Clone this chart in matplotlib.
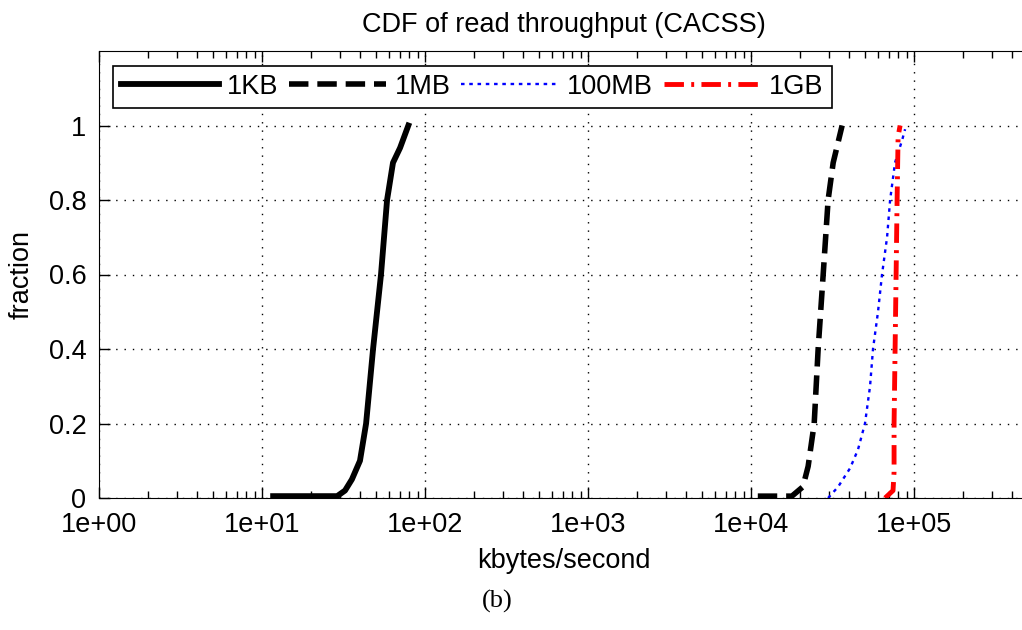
import matplotlib
matplotlib.use('Agg')
import matplotlib.pyplot as plt
from matplotlib.ticker import FixedLocator, LogLocator, NullFormatter

plt.rcParams['font.family'] = ['Liberation Sans', 'DejaVu Sans']

# read throughput samples (kbytes/second) and cumulative fraction
x_1kb = [11.7, 28.9, 32.3, 35.6, 39.9, 43.5, 48.0, 53.7, 58.5, 63.6, 70.3, 79.0]
y_1kb = [0.005, 0.005, 0.02, 0.05, 0.10, 0.2, 0.4, 0.6, 0.8, 0.9, 0.94, 1.0]

x_1mb = [11000, 17800, 20800, 22400, 24400, 25800, 27700, 29700, 31900, 36200]
y_1mb = [0.005, 0.005, 0.03, 0.085, 0.2, 0.4, 0.6, 0.8, 0.9, 1.0]

x_100mb = [29700, 34200, 40500, 45300, 50000, 53700, 56000, 60100, 63600,
           68300, 71300, 76400, 84400, 88100]
y_100mb = [0.0, 0.03, 0.08, 0.13, 0.2, 0.3, 0.4, 0.5, 0.6, 0.7, 0.8, 0.9, 0.96, 0.99]

x_1gb = [66400, 74300, 75400, 75400, 76500, 77600, 78700, 79800, 82100]
y_1gb = [0.0, 0.02, 0.07, 0.2, 0.4, 0.6, 0.8, 0.97, 1.0]

xticks = [1, 10, 100, 1000, 10000, 100000]
xtick_labels = ['1e+00', '1e+01', '1e+02', '1e+03', '1e+04', '1e+05']
yticks = [0, 0.2, 0.4, 0.6, 0.8, 1]
ytick_labels = ['0', '0.2', '0.4', '0.6', '0.8', '1']

fs = 19.5

fig = plt.figure(figsize=(10.22, 6.3), dpi=100)
ax = fig.add_axes([99 / 1022, 132 / 630, 929 / 1022, 447 / 630])

ax.plot(x_1kb, y_1kb, color='black', lw=4.2, ls='-', label='1KB')
ax.plot(x_1mb, y_1mb, color='black', lw=4, ls=(0, (3.5, 1.6)), label='1MB')
ax.plot(x_100mb, y_100mb, color='blue', lw=1.7, ls=(0, (1.5, 2)), label='100MB')
ax.plot(x_1gb, y_1gb, color='red', lw=3.5, ls=(0, (4, 1.5, 0.6, 1.5)), label='1GB')

ax.set_xscale('log')
ax.set_xlim(1, 5e5)
ax.set_ylim(0, 1.2)
ax.xaxis.set_major_locator(FixedLocator(xticks))
ax.set_xticklabels(xtick_labels)
ax.xaxis.set_minor_locator(LogLocator(base=10, subs=range(2, 10)))
ax.xaxis.set_minor_formatter(NullFormatter())
ax.set_yticks(yticks)
ax.set_yticklabels(ytick_labels)

ax.tick_params(which='both', direction='in', top=True, right=False, labelsize=fs)
ax.tick_params(axis='y', pad=9)
ax.tick_params(axis='x', pad=10)
ax.tick_params(which='major', length=8, width=1)
ax.tick_params(which='minor', length=5, width=1)
ax.spines['right'].set_visible(False)

ax.grid(True, which='major', color='black', ls=(0, (1, 5)), lw=1)

ax.set_title('CDF of read throughput (CACSS)', fontsize=fs, pad=14)
ax.set_xlabel('kbytes/second', fontsize=fs, labelpad=7)
ax.set_ylabel('fraction', fontsize=fs, labelpad=10)

leg = ax.legend(loc='upper left', bbox_to_anchor=(0.015, 0.967), ncol=4,
                fontsize=fs, handlelength=3.6, columnspacing=0.4,
                handletextpad=0.3, borderpad=0.3, borderaxespad=0,
                fancybox=False, edgecolor='black', framealpha=1)
leg.get_frame().set_linewidth(1.2)

fig.text(0.487, 0.046, '(b)', fontsize=19, family='Liberation Serif',
         ha='center', va='center')

fig.savefig('out.png', dpi=100)
